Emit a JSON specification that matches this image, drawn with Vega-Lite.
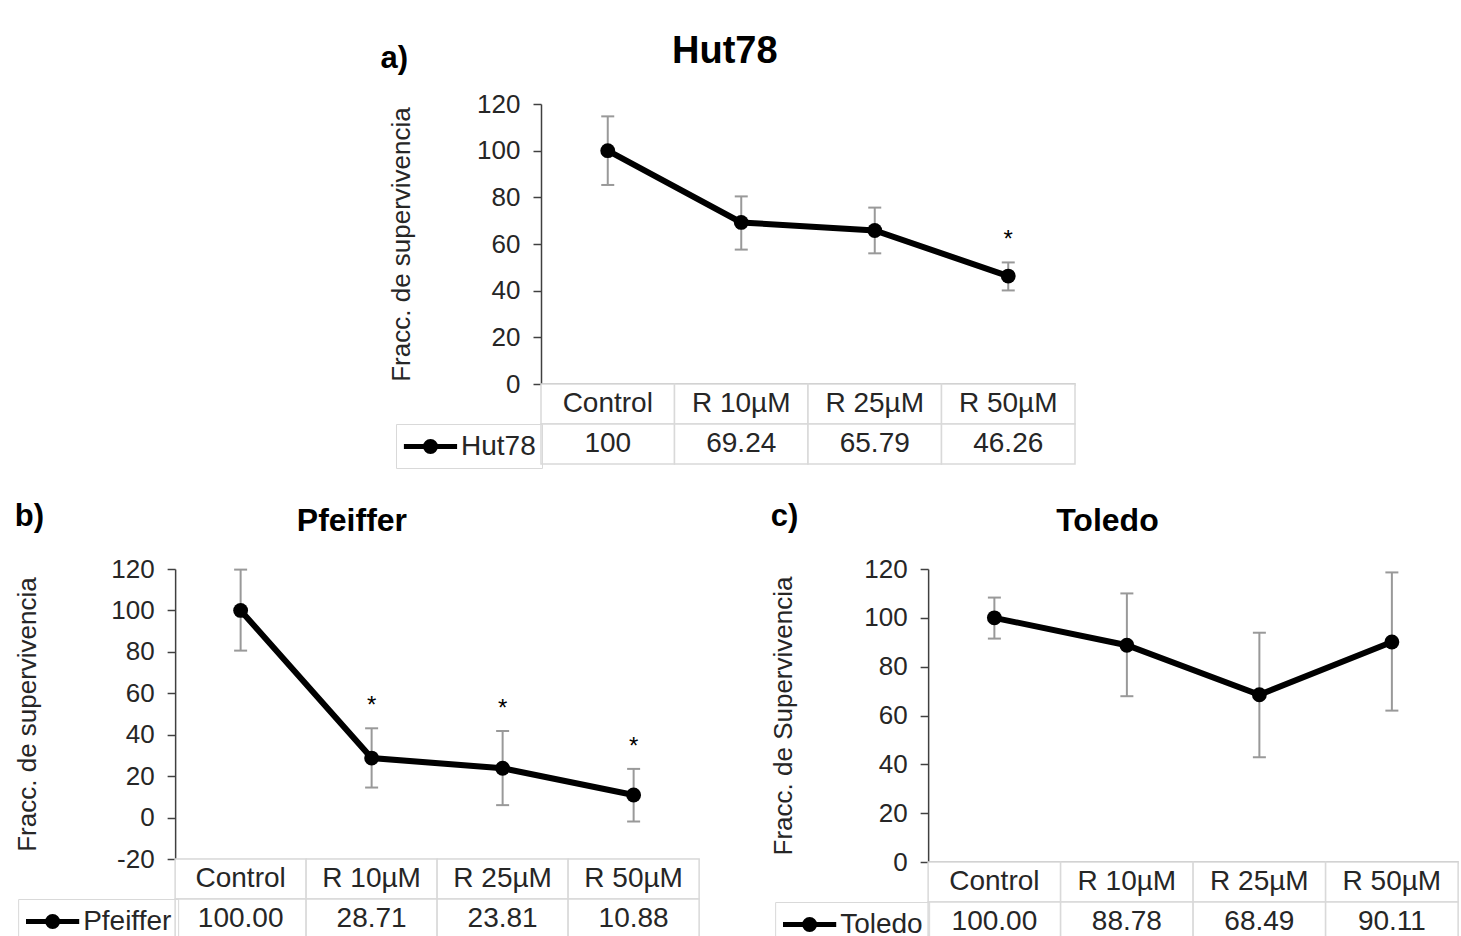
{
  "$schema": "https://vega.github.io/schema/vega-lite/v6.json",
  "background": "white",
  "padding": {"left": 14, "top": 33, "right": 5, "bottom": 5},
  "config": {
    "view": {"stroke": null},
    "font": "Liberation Sans",
    "axisY": {
      "domainColor": "#404040", "domainWidth": 1.5, "tickColor": "#404040", "tickWidth": 1.5, "tickSize": 8,
      "labelColor": "#262626", "labelFontSize": 26, "labelFont": "Liberation Sans", "labelPadding": 13, "grid": false,
      "titleFontSize": 26, "titleFontWeight": "normal", "titleColor": "#262626", "titleFont": "Liberation Sans", "titlePadding": 62,
      "labelExpr": "'' + datum.value"
    },
    "title": {"font": "Liberation Sans", "color": "black", "fontWeight": "bold"},
    "legend": {
      "orient": "none", "title": null,
      "symbolType": "M-1.9,0L1.9,0M0.36,0A0.36,0.36 0 1,1 -0.36,0A0.36,0.36 0 1,1 0.36,0",
      "symbolSize": 784, "symbolStrokeWidth": 5, "symbolStrokeColor": "black", "symbolFillColor": "black",
      "symbolOffset": 12,
      "labelFontSize": 28, "labelFont": "Liberation Sans", "labelColor": "#262626", "labelOffset": 14, "labelLimit": 300,
      "strokeColor": "#d9d9d9", "padding": 6
    }
  },
  "datasets": {
    "hut": [
      {"series": "Hut78", "cat": "Control", "value": 100, "lo": 85.3, "hi": 114.7, "sig": "", "txt": "100"},
      {"series": "Hut78", "cat": "R 10µM", "value": 69.24, "lo": 57.6, "hi": 80.4, "sig": "", "txt": "69.24"},
      {"series": "Hut78", "cat": "R 25µM", "value": 65.79, "lo": 56.0, "hi": 75.6, "sig": "", "txt": "65.79"},
      {"series": "Hut78", "cat": "R 50µM", "value": 46.26, "lo": 40.1, "hi": 52.1, "sig": "*", "txt": "46.26"}
    ],
    "pfe": [
      {"series": "Pfeiffer", "cat": "Control", "value": 100, "lo": 80.6, "hi": 119.7, "sig": "", "txt": "100.00"},
      {"series": "Pfeiffer", "cat": "R 10µM", "value": 28.71, "lo": 14.5, "hi": 43.1, "sig": "*", "txt": "28.71"},
      {"series": "Pfeiffer", "cat": "R 25µM", "value": 23.81, "lo": 6.0, "hi": 41.8, "sig": "*", "txt": "23.81"},
      {"series": "Pfeiffer", "cat": "R 50µM", "value": 10.88, "lo": -1.9, "hi": 23.5, "sig": "*", "txt": "10.88"}
    ],
    "tol": [
      {"series": "Toledo", "cat": "Control", "value": 100, "lo": 91.5, "hi": 108.3, "sig": "", "txt": "100.00"},
      {"series": "Toledo", "cat": "R 10µM", "value": 88.78, "lo": 67.9, "hi": 110.0, "sig": "", "txt": "88.78"},
      {"series": "Toledo", "cat": "R 25µM", "value": 68.49, "lo": 42.9, "hi": 93.9, "sig": "", "txt": "68.49"},
      {"series": "Toledo", "cat": "R 50µM", "value": 90.11, "lo": 62.0, "hi": 118.6, "sig": "", "txt": "90.11"}
    ]
  },
  "center": true,
  "spacing": 32,
  "resolve": {"scale": {"color": "independent"}, "legend": {"color": "independent"}},
  "vconcat": [
    {
      "title": {"text": "a)", "anchor": "start", "frame": "bounds", "fontSize": 31, "offset": -42, "dx": -8},
      "bounds": "flush",
      "spacing": 0,
      "vconcat": [
        {
          "title": {"text": "Hut78", "anchor": "middle", "frame": "bounds", "fontSize": 38, "offset": 20, "dx": -7},
          "width": 534, "height": 280,
          "data": {"name": "hut"},
          "encoding": {
            "x": {"field": "cat", "type": "nominal", "sort": null, "scale": {"paddingInner": 0, "paddingOuter": 0},
                  "axis": {"labels": false, "ticks": false, "title": null, "domainColor": "#bfbfbf", "domainWidth": 3}}
          },
          "layer": [
            {"mark": {"type": "rule", "color": "#999999", "strokeWidth": 2},
             "encoding": {"y": {"field": "lo", "type": "quantitative", "scale": {"domain": [0, 120], "nice": false}, "axis": {"values": [0, 20, 40, 60, 80, 100, 120], "titlePadding": 62}, "title": "Fracc. de supervivencia"},
                          "y2": {"field": "hi"}}},
            {"mark": {"type": "tick", "color": "#999999", "size": 13, "thickness": 2, "opacity": 1},
             "encoding": {"y": {"field": "lo", "type": "quantitative", "title": "Fracc. de supervivencia"}}},
            {"mark": {"type": "tick", "color": "#999999", "size": 13, "thickness": 2, "opacity": 1},
             "encoding": {"y": {"field": "hi", "type": "quantitative", "title": "Fracc. de supervivencia"}}},
            {"mark": {"type": "line", "strokeWidth": 6, "point": {"filled": true, "size": 220, "opacity": 1}},
             "encoding": {"y": {"field": "value", "type": "quantitative", "title": "Fracc. de supervivencia"},
                          "color": {"field": "series", "type": "nominal", "scale": {"range": ["black"]},
                                    "legend": {"legendX": -145, "legendY": 320}}}},
            {"transform": [{"filter": "datum.sig != ''"}],
             "mark": {"type": "text", "fontSize": 24, "color": "black", "baseline": "middle", "dy": -22},
             "encoding": {"y": {"field": "hi", "type": "quantitative", "title": "Fracc. de supervivencia"}, "text": {"field": "sig"}}}
          ]
        },
        {
          "width": 534, "height": 80,
          "data": {"name": "hut"},
          "transform": [{"fold": ["cat", "txt"], "as": ["row", "label"]}],
          "encoding": {
            "x": {"field": "cat", "type": "nominal", "sort": null, "scale": {"paddingInner": 0, "paddingOuter": 0}, "axis": null},
            "y": {"field": "row", "type": "nominal", "sort": ["cat", "txt"], "scale": {"paddingInner": 0, "paddingOuter": 0},
                  "axis": {"orient": "right", "labels": false, "ticks": false, "domain": false, "title": null, "minExtent": 18}}
          },
          "layer": [
            {"mark": {"type": "rect", "fill": "white", "stroke": "#d9d9d9", "strokeWidth": 1.5}},
            {"mark": {"type": "text", "fontSize": 28, "color": "#262626"}, "encoding": {"text": {"field": "label"}}}
          ]
        }
      ]
    },
    {
      "spacing": 70,
      "resolve": {"scale": {"color": "independent"}, "legend": {"color": "independent"}},
      "hconcat": [
        {
          "title": {"text": "b)", "anchor": "start", "frame": "bounds", "fontSize": 31, "offset": -28},
          "bounds": "flush",
          "spacing": 0,
          "vconcat": [
            {
              "title": {"text": "Pfeiffer", "anchor": "middle", "frame": "bounds", "fontSize": 32, "offset": 18, "dx": -5},
              "width": 524, "height": 290,
              "data": {"name": "pfe"},
              "encoding": {
                "x": {"field": "cat", "type": "nominal", "sort": null, "scale": {"paddingInner": 0, "paddingOuter": 0},
                      "axis": {"labels": false, "ticks": false, "title": null, "domainColor": "#d9d9d9", "domainWidth": 1.5}}
              },
              "layer": [
                {"mark": {"type": "rule", "color": "black", "strokeWidth": 1.5},
                 "encoding": {"y": {"datum": 0, "type": "quantitative", "scale": {"domain": [-20, 120], "nice": false}, "axis": {"values": [-20, 0, 20, 40, 60, 80, 100, 120], "titlePadding": 70}, "title": "Fracc. de supervivencia"}}},
                {"mark": {"type": "rule", "color": "#999999", "strokeWidth": 2},
                 "encoding": {"y": {"field": "lo", "type": "quantitative", "title": "Fracc. de supervivencia"},
                              "y2": {"field": "hi"}}},
                {"mark": {"type": "tick", "color": "#999999", "size": 13, "thickness": 2, "opacity": 1},
                 "encoding": {"y": {"field": "lo", "type": "quantitative", "title": "Fracc. de supervivencia"}}},
                {"mark": {"type": "tick", "color": "#999999", "size": 13, "thickness": 2, "opacity": 1},
                 "encoding": {"y": {"field": "hi", "type": "quantitative", "title": "Fracc. de supervivencia"}}},
                {"mark": {"type": "line", "strokeWidth": 6, "point": {"filled": true, "size": 220, "opacity": 1}},
                 "encoding": {"y": {"field": "value", "type": "quantitative", "title": "Fracc. de supervivencia"},
                              "color": {"field": "series", "type": "nominal", "scale": {"range": ["black"]},
                                        "legend": {"legendX": -157, "legendY": 330}}}},
                {"transform": [{"filter": "datum.sig != ''"}],
                 "mark": {"type": "text", "fontSize": 24, "color": "black", "baseline": "middle", "dy": -22},
                 "encoding": {"y": {"field": "hi", "type": "quantitative", "title": "Fracc. de supervivencia"}, "text": {"field": "sig"}}}
              ]
            },
            {
              "width": 524, "height": 80,
              "data": {"name": "pfe"},
              "transform": [{"fold": ["cat", "txt"], "as": ["row", "label"]}],
              "encoding": {
                "x": {"field": "cat", "type": "nominal", "sort": null, "scale": {"paddingInner": 0, "paddingOuter": 0}, "axis": null},
                "y": {"field": "row", "type": "nominal", "sort": ["cat", "txt"], "scale": {"paddingInner": 0, "paddingOuter": 0}, "axis": null}
              },
              "layer": [
                {"mark": {"type": "rect", "fill": "white", "stroke": "#d9d9d9", "strokeWidth": 1.5}},
                {"mark": {"type": "text", "fontSize": 28, "color": "#262626"}, "encoding": {"text": {"field": "label"}}}
              ]
            }
          ]
        },
        {
          "title": {"text": "c)", "anchor": "start", "frame": "bounds", "fontSize": 31, "offset": -28},
          "bounds": "flush",
          "spacing": 0,
          "vconcat": [
            {
              "title": {"text": "Toledo", "anchor": "middle", "frame": "bounds", "fontSize": 32, "offset": 18, "dx": -7},
              "width": 530, "height": 293,
              "data": {"name": "tol"},
              "encoding": {
                "x": {"field": "cat", "type": "nominal", "sort": null, "scale": {"paddingInner": 0, "paddingOuter": 0},
                      "axis": {"labels": false, "ticks": false, "title": null, "domainColor": "#bfbfbf", "domainWidth": 3}}
              },
              "layer": [
                {"mark": {"type": "rule", "color": "#999999", "strokeWidth": 2},
                 "encoding": {"y": {"field": "lo", "type": "quantitative", "scale": {"domain": [0, 120], "nice": false}, "axis": {"values": [0, 20, 40, 60, 80, 100, 120], "titlePadding": 67}, "title": "Fracc. de Supervivencia"},
                              "y2": {"field": "hi"}}},
                {"mark": {"type": "tick", "color": "#999999", "size": 13, "thickness": 2, "opacity": 1},
                 "encoding": {"y": {"field": "lo", "type": "quantitative", "title": "Fracc. de Supervivencia"}}},
                {"mark": {"type": "tick", "color": "#999999", "size": 13, "thickness": 2, "opacity": 1},
                 "encoding": {"y": {"field": "hi", "type": "quantitative", "title": "Fracc. de Supervivencia"}}},
                {"mark": {"type": "line", "strokeWidth": 6, "point": {"filled": true, "size": 220, "opacity": 1}},
                 "encoding": {"y": {"field": "value", "type": "quantitative", "title": "Fracc. de Supervivencia"},
                              "color": {"field": "series", "type": "nominal", "scale": {"range": ["black"]},
                                        "legend": {"legendX": -153, "legendY": 333}}}}
              ]
            },
            {
              "width": 530, "height": 80,
              "data": {"name": "tol"},
              "transform": [{"fold": ["cat", "txt"], "as": ["row", "label"]}],
              "encoding": {
                "x": {"field": "cat", "type": "nominal", "sort": null, "scale": {"paddingInner": 0, "paddingOuter": 0}, "axis": null},
                "y": {"field": "row", "type": "nominal", "sort": ["cat", "txt"], "scale": {"paddingInner": 0, "paddingOuter": 0}, "axis": null}
              },
              "layer": [
                {"mark": {"type": "rect", "fill": "white", "stroke": "#d9d9d9", "strokeWidth": 1.5}},
                {"mark": {"type": "text", "fontSize": 28, "color": "#262626"}, "encoding": {"text": {"field": "label"}}}
              ]
            }
          ]
        }
      ]
    }
  ]
}
